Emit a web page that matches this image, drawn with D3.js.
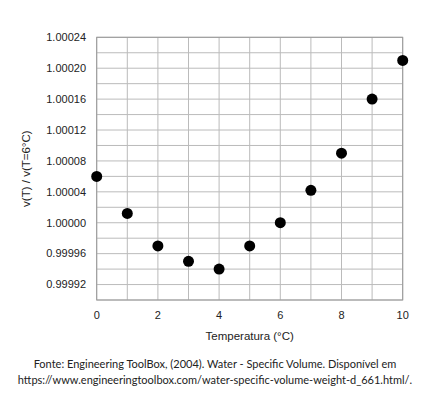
<!DOCTYPE html>
<html><head><meta charset="utf-8">
<script src="https://cdn.jsdelivr.net/npm/d3@7"></script>
<style>body{margin:0;background:#fff}</style>
</head><body>
<svg id="c" width="430" height="410"></svg>
<script>
const temps = [0,1,2,3,4,5,6,7,8,9,10];
const ratios = [1.00006,1.000012,0.99997,0.99995,0.99994,0.99997,1.0,1.000042,1.00009,1.00016,1.00021];
const yTicks = [0.99992,0.99996,1.0,1.00004,1.00008,1.00012,1.00016,1.0002,1.00024];
const xTicks = [0,2,4,6,8,10];

const svg = d3.select('#c');
const x = d3.scaleLinear().domain([0,10]).range([96.7,402.7]);
const y = d3.scaleLinear().domain([0.9999,1.00024]).range([300,37.3]);

// grid
const g = svg.append('g').attr('stroke','#bbb').attr('stroke-width',1);
d3.range(0,11).forEach(v => g.append('line').attr('x1',x(v)).attr('x2',x(v)).attr('y1',y.range()[1]).attr('y2',y.range()[0]));
d3.range(0,18).forEach(i => { const v = 0.9999 + i*0.00002;
  g.append('line').attr('x1',x(0)).attr('x2',x(10)).attr('y1',y(v)).attr('y2',y(v)); });
svg.append('rect').attr('x',x(0)).attr('y',y.range()[1]).attr('width',x(10)-x(0)).attr('height',y.range()[0]-y.range()[1])
  .attr('fill','none').attr('stroke','#999');

const font = "'Liberation Sans', Arial, sans-serif";
svg.append('g').selectAll('text').data(yTicks).join('text')
  .attr('x',86).attr('y',d=>y(d)).attr('dy','0.35em').attr('text-anchor','end')
  .attr('font-family',font).attr('font-size',11).attr('fill','#222').text(d=>d.toFixed(5));
svg.append('g').selectAll('text').data(xTicks).join('text')
  .attr('x',d=>x(d)).attr('y',319).attr('text-anchor','middle')
  .attr('font-family',font).attr('font-size',11).attr('fill','#222').text(d=>d);

svg.append('text').attr('x',x(5)).attr('y',340).attr('text-anchor','middle')
  .attr('font-family',font).attr('font-size',11.5).attr('fill','#222').text('Temperatura (°C)');
svg.append('text').attr('transform',`translate(30,${y(1.00007)}) rotate(-90)`).attr('text-anchor','middle')
  .attr('font-family',font).attr('font-size',11.5).attr('fill','#222').text('v(T) / v(T=6°C)');

svg.append('g').selectAll('circle').data(temps).join('circle')
  .attr('cx',d=>x(d)).attr('cy',(d,i)=>y(ratios[i])).attr('r',5.5).attr('fill','#000');

const cap = "Lato, 'Open Sans', sans-serif";
svg.append('text').attr('x',215).attr('y',368).attr('text-anchor','middle')
  .attr('font-family',cap).attr('font-size',11).attr('fill','#222')
  .text('Fonte: Engineering ToolBox, (2004). Water - Specific Volume. Disponível em');
svg.append('text').attr('x',215).attr('y',384).attr('text-anchor','middle')
  .attr('font-family',cap).attr('font-size',11).attr('fill','#222')
  .text('https://www.engineeringtoolbox.com/water-specific-volume-weight-d_661.html/.');
</script>
</body></html>
